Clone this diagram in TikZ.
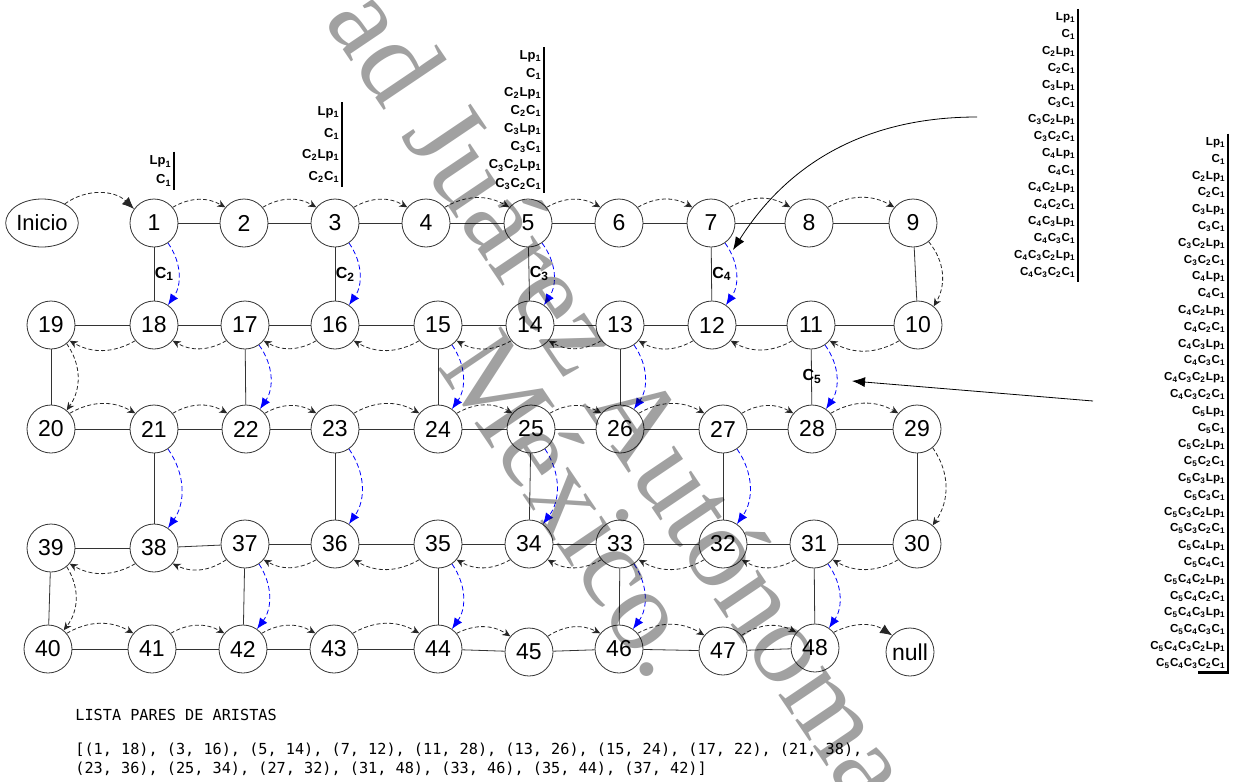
\documentclass[tikz,border=0pt]{standalone}
\usepackage{fontspec}
\setsansfont{Liberation Sans}
\setmonofont{DejaVu Sans Mono}
\newfontfamily\wmfont{Liberation Serif}
\usetikzlibrary{arrows.meta,shapes.geometric}

\newcommand{\ccs}[1]{C\textsubscript{#1}}
\newcommand{\lpo}{Lp\textsubscript{1}}

\tikzset{
    vertex/.style={circle, draw=black!80, thin, fill=white, minimum size=24pt,
        inner sep=0pt, font=\sffamily\fontsize{11.5}{12}\selectfont},
    edge/.style={thin, black!80},
    walk/.style={-{Stealth[length=4pt,width=3.6pt]}, thin, black!85,
        dash pattern=on 2pt off 1.2pt},
    walkend/.style={walk, -{Latex[length=6pt,width=5pt]}},
    pair/.style={-{Latex[length=5.5pt,width=4.5pt]}, thin, blue,
        dash pattern=on 2.5pt off 1.5pt},
    clabel/.style={font=\sffamily\bfseries\fontsize{8}{9}\selectfont, text=black, inner sep=0pt},
    stack/.style={anchor=east, align=right, inner xsep=1pt, inner ysep=2pt},
    bar/.style={line width=1.1pt},
    pointer/.style={-{Latex[length=6.5pt,width=5pt]}, thin},
    mono/.style={font=\ttfamily\fontsize{7.6}{9.5}\selectfont, inner sep=0pt},
    wmark/.style={font=\wmfont\fontsize{58}{58}\selectfont, text=black,
        text opacity=0.37, inner sep=0pt, anchor=base west, rotate=-56}
}

\begin{document}
\begin{tikzpicture}[x=0.5pt, y=-0.5pt]

\useasboundingbox (0,0) rectangle (1233,782);

% ---------------- NODES ----------------

\node[ellipse, draw=black!80, thin, minimum width=33pt, minimum height=24pt,
    inner sep=0pt, font=\sffamily\fontsize{11}{12}\selectfont] (inicio) at (42,223) {Inicio};

% fila 1
\node[vertex] (n1) at (154,223) {1};
\node[vertex] (n2) at (244,223) {2};
\node[vertex] (n3) at (335,223) {3};
\node[vertex] (n4) at (426,223) {4};
\node[vertex] (n5) at (528,223) {5};
\node[vertex] (n6) at (619,223) {6};
\node[vertex] (n7) at (711,223) {7};
\node[vertex] (n8) at (809,223) {8};
\node[vertex] (n9) at (913,223) {9};

% fila 2
\node[vertex] (n19) at (51,325) {19};
\node[vertex] (n18) at (154,325) {18};
\node[vertex] (n17) at (245,325) {17};
\node[vertex] (n16) at (335,325) {16};
\node[vertex] (n15) at (438,325) {15};
\node[vertex] (n14) at (530,325) {14};
\node[vertex] (n13) at (620,325) {13};
\node[vertex] (n12) at (712,325) {12};
\node[vertex] (n11) at (811,325) {11};
\node[vertex] (n10) at (918,325) {10};

% fila 3
\node[vertex] (n20) at (51,429) {20};
\node[vertex] (n21) at (154,429) {21};
\node[vertex] (n22) at (246,429) {22};
\node[vertex] (n23) at (335,429) {23};
\node[vertex] (n24) at (438,429) {24};
\node[vertex] (n25) at (531,429) {25};
\node[vertex] (n26) at (620,429) {26};
\node[vertex] (n27) at (723,429) {27};
\node[vertex] (n28) at (812,429) {28};
\node[vertex] (n29) at (917,429) {29};

% fila 4
\node[vertex] (n39) at (51,548) {39};
\node[vertex] (n38) at (154,548) {38};
\node[vertex] (n37) at (245,544) {37};
\node[vertex] (n36) at (335,544) {36};
\node[vertex] (n35) at (438,544) {35};
\node[vertex] (n34) at (529,544) {34};
\node[vertex] (n33) at (620,544) {33};
\node[vertex] (n32) at (723,544) {32};
\node[vertex] (n31) at (814,544) {31};
\node[vertex] (n30) at (917,544) {30};

% fila 5
\node[vertex] (n40) at (48,649) {40};
\node[vertex] (n41) at (152,649) {41};
\node[vertex] (n42) at (243,649) {42};
\node[vertex] (n43) at (334,649) {43};
\node[vertex] (n44) at (438,649) {44};
\node[vertex] (n45) at (529,652) {45};
\node[vertex] (n46) at (619,649) {46};
\node[vertex] (n47) at (723,651) {47};
\node[vertex] (n48) at (815,648) {48};
\node[vertex] (null) at (910,652) {null};

% ---------------- ARISTAS ----------------

\foreach \a in {1,...,47}{
    \pgfmathtruncatemacro{\b}{\a+1}
    \draw[edge] (n\a) -- (n\b);
}
\foreach \a/\b in {1/18,3/16,5/14,7/12,11/28,13/26,15/24,17/22,
                   21/38,23/36,25/34,27/32,31/48,33/46,35/44,37/42}
    \draw[edge] (n\a) -- (n\b);

% ---------------- RECORRIDO ----------------

\draw[walkend] (inicio.40) to[bend left=40] (n1.145);
\foreach \a in {1,...,8,20,21,...,28,40,41,...,47}{
    \pgfmathtruncatemacro{\b}{\a+1}
    \draw[walk] (n\a.40) to[bend left=30] (n\b.140);
}
\foreach \a in {10,...,18,30,31,...,38}{
    \pgfmathtruncatemacro{\b}{\a+1}
    \draw[walk] (n\a.-140) to[bend left=30] (n\b.-40);
}
\foreach \a/\b in {9/10,19/20,29/30,39/40}
    \draw[walk] (n\a.-50) to[bend left=35] (n\b.50);
\draw[walkend] (n48.40) to[bend left=30] (null.137);

% ---------------- PARES ----------------

\draw[pair] (n1.-55) to[bend left=35] node[clabel, left=2pt] {\ccs{1}} (n18.55);
\draw[pair] (n3.-55) to[bend left=35] node[clabel, left=2pt] {\ccs{2}} (n16.55);
\draw[pair] (n5.-55) to[bend left=35] node[clabel, left=2pt] {\ccs{3}} (n14.55);
\draw[pair] (n7.-55) to[bend left=35] node[clabel, left=2pt] {\ccs{4}} (n12.55);
\draw[pair] (n11.-55) to[bend left=35] node[clabel, left=7pt] {\ccs{5}} (n28.55);
\foreach \a/\b in {13/26,15/24,17/22,21/38,23/36,25/34,27/32,31/48,33/46,35/44,37/42}
    \draw[pair] (n\a.-55) to[bend left=35] (n\b.55);

% ---------------- PILAS ----------------

\node[stack, font=\sffamily\bfseries\fontsize{6.5}{9.5}\selectfont] (s1) at (174,171)
    {\lpo\\\ccs{1}};
\draw[bar] (s1.north east) -- (s1.south east);

\node[stack, font=\sffamily\bfseries\fontsize{6.5}{10.75}\selectfont] (s3) at (342,144.5)
    {\lpo\\\ccs{1}\\\ccs{2}\lpo\\\ccs{2}\ccs{1}};
\draw[bar] (s3.north east) -- (s3.south east);

\node[stack, font=\sffamily\bfseries\fontsize{6.5}{9.1}\selectfont, inner ysep=1.5pt] (s5) at (544,120)
    {\lpo\\\ccs{1}\\\ccs{2}\lpo\\\ccs{2}\ccs{1}\\
     \ccs{3}\lpo\\\ccs{3}\ccs{1}\\\ccs{3}\ccs{2}\lpo\\\ccs{3}\ccs{2}\ccs{1}};
\draw[bar] (s5.north east) -- (s5.south east);

\node[stack, font=\sffamily\bfseries\fontsize{5.8}{8.5}\selectfont, inner ysep=1.8pt] (s7) at (1078,145.5)
    {\lpo\\\ccs{1}\\\ccs{2}\lpo\\\ccs{2}\ccs{1}\\
     \ccs{3}\lpo\\\ccs{3}\ccs{1}\\\ccs{3}\ccs{2}\lpo\\\ccs{3}\ccs{2}\ccs{1}\\
     \ccs{4}\lpo\\\ccs{4}\ccs{1}\\\ccs{4}\ccs{2}\lpo\\\ccs{4}\ccs{2}\ccs{1}\\
     \ccs{4}\ccs{3}\lpo\\\ccs{4}\ccs{3}\ccs{1}\\\ccs{4}\ccs{3}\ccs{2}\lpo\\\ccs{4}\ccs{3}\ccs{2}\ccs{1}};
\draw[bar] (s7.north east) -- (s7.south east);

\node[stack, font=\sffamily\bfseries\fontsize{5.8}{8.4}\selectfont, inner ysep=1.8pt] (s11) at (1228,403)
    {\lpo\\\ccs{1}\\\ccs{2}\lpo\\\ccs{2}\ccs{1}\\
     \ccs{3}\lpo\\\ccs{3}\ccs{1}\\\ccs{3}\ccs{2}\lpo\\\ccs{3}\ccs{2}\ccs{1}\\
     \ccs{4}\lpo\\\ccs{4}\ccs{1}\\\ccs{4}\ccs{2}\lpo\\\ccs{4}\ccs{2}\ccs{1}\\
     \ccs{4}\ccs{3}\lpo\\\ccs{4}\ccs{3}\ccs{1}\\\ccs{4}\ccs{3}\ccs{2}\lpo\\\ccs{4}\ccs{3}\ccs{2}\ccs{1}\\
     \ccs{5}\lpo\\\ccs{5}\ccs{1}\\\ccs{5}\ccs{2}\lpo\\\ccs{5}\ccs{2}\ccs{1}\\
     \ccs{5}\ccs{3}\lpo\\\ccs{5}\ccs{3}\ccs{1}\\\ccs{5}\ccs{3}\ccs{2}\lpo\\\ccs{5}\ccs{3}\ccs{2}\ccs{1}\\
     \ccs{5}\ccs{4}\lpo\\\ccs{5}\ccs{4}\ccs{1}\\\ccs{5}\ccs{4}\ccs{2}\lpo\\\ccs{5}\ccs{4}\ccs{2}\ccs{1}\\
     \ccs{5}\ccs{4}\ccs{3}\lpo\\\ccs{5}\ccs{4}\ccs{3}\ccs{1}\\\ccs{5}\ccs{4}\ccs{3}\ccs{2}\lpo\\\ccs{5}\ccs{4}\ccs{3}\ccs{2}\ccs{1}};
\draw[bar] (s11.north east) -- (s11.south east) -- ++(-30,0);

% ---------------- FLETXES ----------------

\coordinate (p7from) at (977,117);
\coordinate (p7to) at (733,250);
\draw[pointer] (p7from) .. controls (870,117) and (790,160) .. (p7to);

\coordinate (p11from) at (1093,401);
\coordinate (p11to) at (852,381);
\draw[pointer] (p11from) -- (p11to);

% ---------------- LLISTA ----------------

\node[mono, anchor=west] (title) at (75,715) {LISTA PARES DE ARISTAS};
\node[mono, anchor=west, align=left] (pairs) at (75,759)
    {[(1, 18), (3, 16), (5, 14), (7, 12), (11, 28), (13, 26), (15, 24), (17, 22), (21, 38),\\
     (23, 36), (25, 34), (27, 32), (31, 48), (33, 46), (35, 44), (37, 42)]};

% ---------------- MARCA D'AIGUA ----------------

\node[wmark] (wm1) at (323,20) {ad Juárez Autónoma};
\node[wmark] (wm2) at (436,366) {México.};

\end{tikzpicture}
\end{document}
